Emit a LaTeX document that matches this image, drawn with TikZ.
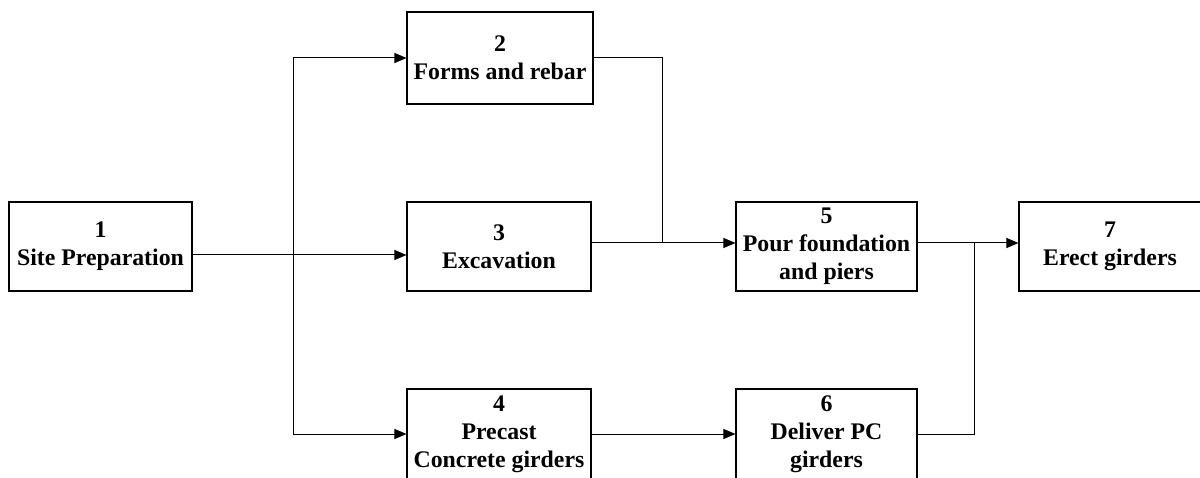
\documentclass[tikz,border=0pt]{standalone}
\usepackage{fontspec}
\setmainfont{Liberation Serif}
\usetikzlibrary{arrows.meta}
\tikzset{
  task/.style={draw=black, line width=1.1pt, fill=white, align=center, inner sep=0pt,
    font=\fontsize{23.8}{28}\selectfont\bfseries},
  link/.style={draw=black, line width=1pt},
  arr/.style={link, -{Triangle[length=12pt,width=10pt]}}
}
\begin{document}
\begin{tikzpicture}[x=1pt,y=-1pt]
\useasboundingbox (0,0) rectangle (1200,478);
\begin{scope}
\clip (0,0) rectangle (1200,478);
\node[task, minimum width=183pt, minimum height=89pt] (n1) at (100.5,246.5) {1\\Site Preparation};
\node[task, minimum width=186pt, minimum height=92pt] (n2) at (500,58) {2\\Forms and rebar};
\node[task, minimum width=184pt, minimum height=89pt] (n3) at (499,246.5) {3\\Excavation};
\node[task, minimum width=184pt, minimum height=90pt] (n4) at (499,434) {4\\Precast\\Concrete girders};
\node[task, minimum width=181pt, minimum height=89pt] (n5) at (826.5,246.5) {5\\Pour foundation\\and piers};
\node[task, minimum width=181pt, minimum height=90pt] (n6) at (826.5,434) {6\\Deliver PC\\girders};
\node[task, minimum width=182pt, minimum height=89pt] (n7) at (1110,246.5) {7\\Erect girders};
\end{scope}
\coordinate (j1) at (293,255);
\coordinate (j3) at (662,243);
\coordinate (j5) at (974,243);
% from 1
\draw[arr] (n1.east |- j1) -- (n3.west |- j1);
\draw[arr] (j1) |- (n2.west);
\draw[arr] (j1) |- (n4.west);
% to 5
\draw[link] (n2.east) -| (j3);
\draw[arr] (n3.east |- j3) -- (n5.west |- j3);
% to 6
\draw[arr] (n4.east) -- (n6.west);
% to 7
\draw[arr] (n5.east |- j5) -- (n7.west |- j5);
\draw[link] (n6.east) -| (j5);
\end{tikzpicture}
\end{document}
